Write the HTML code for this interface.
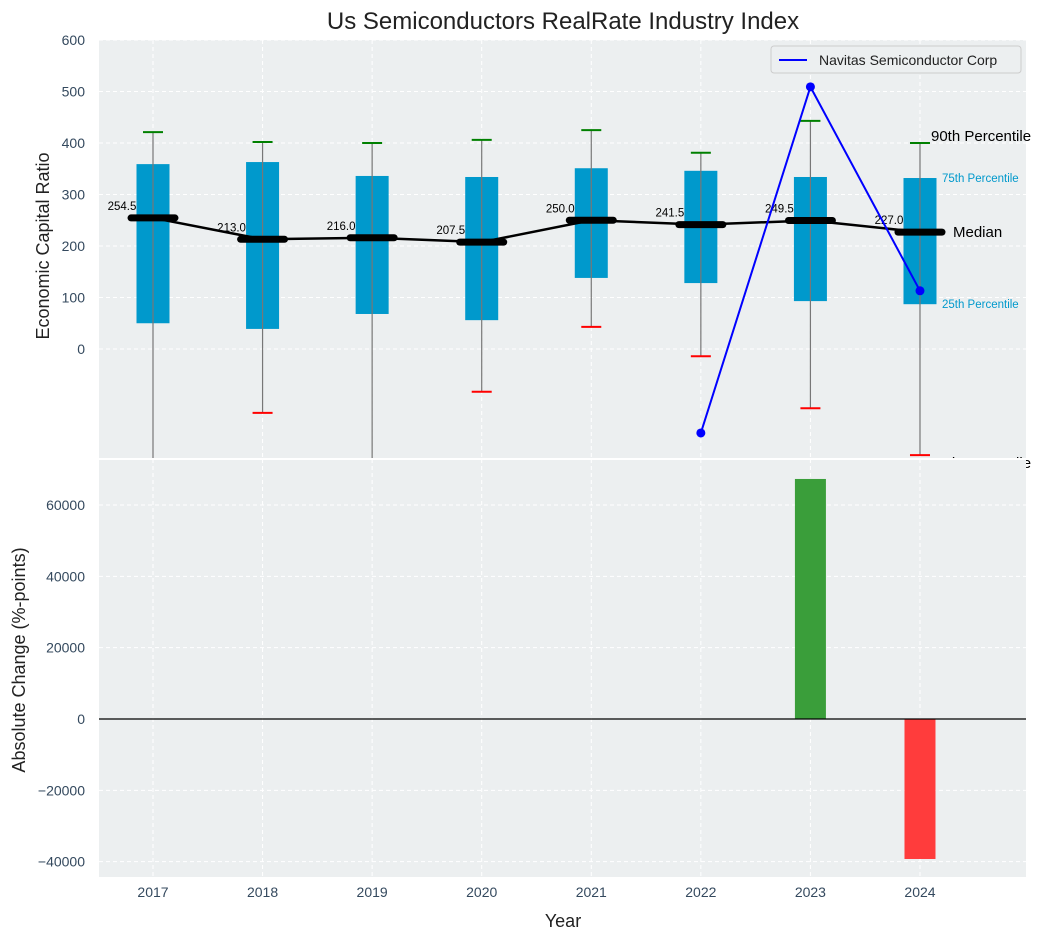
<!DOCTYPE html>
<html><head><meta charset="utf-8"><style>
body{margin:0;background:#fff;}
svg{font-family:"Liberation Sans","DejaVu Sans",sans-serif;}
</style></head><body>
<svg id="c" width="1051" height="940" xmlns="http://www.w3.org/2000/svg"></svg>
<script>
const years=[2017,2018,2019,2020,2021,2022,2023,2024];
const p90=[421,402,400,406,425,381,443,400];
const p75=[359,363,336,334,351,346,334,332];
const med=[254.5,213.0,216.0,207.5,250.0,241.5,249.5,227.0];
const p25=[50,39,68,56,138,128,93,87];
const p10=[-300,-124,-300,-83,43,-14,-115,-206];
const navYears=[2022,2023,2024];
const navVals=[-163,509,113];
const changeYears=[2023,2024];
const changeVals=[67300,-39250];
const yTicksTop=[0,100,200,300,400,500,600];
const yTicksBot=[-40000,-20000,0,20000,40000,60000];

const NS="http://www.w3.org/2000/svg";
const svg=document.getElementById('c');
function el(tag,attrs,parent,text){const e=document.createElementNS(NS,tag);for(const k in attrs)e.setAttribute(k,attrs[k]);if(text!==undefined)e.textContent=text;(parent||svg).appendChild(e);return e;}
const L=99,R=1026;
const X=v=>153+(v-2017)*109.57;
const Yt=v=>349-v*0.515;
const Yb=v=>719-v*214/60000;
const BOT=877,MID=459,TOP=40;
const TICK='#34495e';
const fmt=v=>v<0?'\u2212'+Math.abs(v):String(v);

let t=el('text',{x:563,y:29,'text-anchor':'middle','font-size':24,fill:'#222'},svg,'Us Semiconductors RealRate Industry Index');


let bg=el('rect',{x:L,y:TOP,width:R-L,height:MID-TOP,fill:'#eceff0'});

const gridT=el('g',{stroke:'#fff','stroke-dasharray':'4,3','stroke-width':1});
yTicksTop.forEach(v=>{el('line',{x1:L,x2:R,y1:Yt(v),y2:Yt(v)},gridT);
 let tx=el('text',{x:L-14,y:Yt(v)+5,'text-anchor':'end','font-size':14,fill:TICK},svg,fmt(v));
 });
years.forEach(y=>el('line',{x1:X(y),x2:X(y),y1:TOP,y2:MID},gridT));
let yl=el('text',{x:49,y:246,'text-anchor':'middle','font-size':18,fill:'#222',transform:'rotate(-90 49 246)'},svg,'Economic Capital Ratio');


const topG=el('g',{});
const clip=el('clipPath',{id:'ct'});el('rect',{x:L,y:TOP,width:R-L,height:MID-TOP},clip);
const clipped=el('g',{'clip-path':'url(#ct)'},topG);
years.forEach((y,i)=>{
 const x=X(y),hw=16.5;
 let b=el('rect',{x:x-hw,y:Yt(p75[i]),width:2*hw,height:Yt(p25[i])-Yt(p75[i]),fill:'#0099cc'},clipped);
 
 let w=el('line',{x1:x,x2:x,y1:Yt(p10[i]),y2:Yt(p90[i]),stroke:'#777','stroke-width':1.2},clipped);
 
 el('line',{x1:x-10,x2:x+10,y1:Yt(p90[i]),y2:Yt(p90[i]),stroke:'green','stroke-width':2},clipped);
 el('line',{x1:x-10,x2:x+10,y1:Yt(p10[i]),y2:Yt(p10[i]),stroke:'red','stroke-width':2},clipped);
});
let mp=years.map((y,i)=>X(y)+','+Yt(med[i])).join(' ');
let ml=el('polyline',{points:mp,fill:'none',stroke:'#000','stroke-width':2.5},clipped);

years.forEach((y,i)=>{
 const x=X(y);
 let m=el('line',{x1:x-22,x2:x+22,y1:Yt(med[i]),y2:Yt(med[i]),stroke:'#000','stroke-width':7,'stroke-linecap':'round'},clipped);
 
 let lb=el('text',{x:x-31,y:Yt(med[i])-8,'text-anchor':'middle','font-size':11.5,fill:'#000'},clipped,med[i].toFixed(1));
 
});
let np=navYears.map((y,i)=>X(y)+','+Yt(navVals[i])).join(' ');
let nl=el('polyline',{points:np,fill:'none',stroke:'#0000ff','stroke-width':2},clipped);

navYears.forEach((y,i)=>{let c=el('circle',{cx:X(y),cy:Yt(navVals[i]),r:4.5,fill:'#0000ff'},clipped);
 });
const lx=X(2024);
const plab=[[p90[7],'90th Percentile',15,'#000',11,-2],[p75[7],'75th Percentile',11.5,'#0099cc',22,4],[med[7],'Median',15,'#000',33,5],[p25[7],'25th Percentile',11.5,'#0099cc',22,4],[p10[7],'10th Percentile',15,'#000',11,13]];
plab.forEach(p=>{let tx=el('text',{x:lx+p[4],y:Yt(p[0])+p[5],'font-size':p[2],fill:p[3]},topG,p[1]);
 });
const lg=el('g',{});
el('rect',{x:771,y:46,width:250,height:27,rx:3,fill:'#eceff0',stroke:'#ccc'},lg);
el('line',{x1:779,x2:807,y1:60,y2:60,stroke:'#0000ff','stroke-width':2},lg);
el('text',{x:819,y:65,'font-size':14,fill:'#222'},lg,'Navitas Semiconductor Corp');

let bg2=el('rect',{x:L,y:MID+1,width:R-L,height:BOT-MID-1,fill:'#eceff0'});

el('line',{x1:L,x2:R,y1:MID,y2:MID,stroke:'#fff','stroke-width':2});
const gridB=el('g',{stroke:'#fff','stroke-dasharray':'4,3','stroke-width':1});
yTicksBot.forEach(v=>{el('line',{x1:L,x2:R,y1:Yb(v),y2:Yb(v)},gridB);
 let tx=el('text',{x:L-14,y:Yb(v)+5,'text-anchor':'end','font-size':14,fill:TICK},svg,fmt(v));
 });
years.forEach(y=>{el('line',{x1:X(y),x2:X(y),y1:MID,y2:BOT},gridB);
 let tx=el('text',{x:X(y),y:BOT+20,'text-anchor':'middle','font-size':14,fill:TICK},svg,y);
 });
changeYears.forEach((y,i)=>{const v=changeVals[i];
 let b=el('rect',{x:X(y)-15.5,y:Math.min(Yb(v),Yb(0)),width:31,height:Math.abs(Yb(v)-Yb(0)),fill:v>=0?'#3a9e3a':'#ff3c3c'});
 });
el('line',{x1:L,x2:R,y1:Yb(0),y2:Yb(0),stroke:'#000','stroke-width':1.2});
let yl2=el('text',{x:25,y:660,'text-anchor':'middle','font-size':18,fill:'#222',transform:'rotate(-90 25 660)'},svg,'Absolute Change (%-points)');

let xl=el('text',{x:563,y:927,'text-anchor':'middle','font-size':18,fill:'#222'},svg,'Year');

</script>
</body></html>
